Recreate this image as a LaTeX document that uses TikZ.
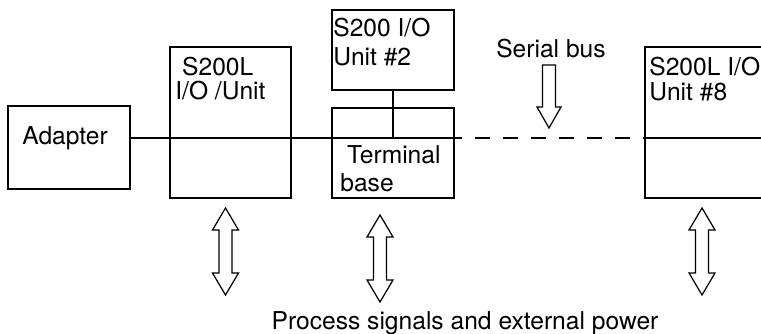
\documentclass[tikz,border=0pt]{standalone}
\usepackage{fontspec}
\setmainfont{TeX Gyre Heros}
\usetikzlibrary{calc}

\tikzset{
  unit/.style={draw, line width=1.1pt, inner sep=0pt},
  lbl/.style={inner sep=0pt, anchor=base west, align=left, font=\fontsize{14}{14}\selectfont},
  hollow/.style={draw, line width=0.7pt, line join=miter},
  bus/.style={line width=1.1pt},
}

\begin{document}
\begin{tikzpicture}
        \useasboundingbox (0,0) rectangle (15.22,-6.68);
        \clip (0,0) rectangle (15.22,-6.68);
        %% units
        \node[unit, minimum width=2.44cm, minimum height=1.66cm] (adp) at ( 1.38, -2.95) {};
        \node[unit, minimum width=2.42cm, minimum height=3.02cm] (io1) at ( 4.61, -2.45) {};
        \node[unit, minimum width=2.44cm, minimum height=1.60cm] (io2) at ( 7.86, -1.00) {};
        \node[unit, minimum width=2.44cm, minimum height=1.80cm] (tb2) at ( 7.86, -3.06) {};
        \node[unit, minimum width=3.00cm, minimum height=3.02cm] (io8) at (14.40, -2.45) {};
        %% labels (anchor on the last line)
        \node[lbl] (adptxt) at ( 0.44, -2.90) {Adapter};
        \node[lbl] (io1txt) at ( 3.50, -2.00) {\ S200L\\I/O /Unit};
        \node[lbl] (io2txt) at ( 6.66, -1.32) {S200 I/O\\[2.5pt]Unit \#2};
        \node[lbl] (tb2txt) at ( 6.80, -3.84) {\ Terminal\\[2.5pt]base};
        \node[lbl] (io8txt) at (12.98, -2.02) {S200L I/O\\[0.5pt]Unit \#8};
        \node[lbl, anchor=base] (bustxt) at (11.02, -1.16) {Serial bus};
        \node[lbl, anchor=base] (proctxt) at ( 9.30, -6.60) {Process signals and external power};
        %% serial bus
        \coordinate (bus0) at (2.60,-2.76);
        \coordinate (bus1) at (9.24,-2.76);
        \coordinate (bus2) at (io8.west |- bus1);
        \coordinate (bus3) at (io8.east |- bus1);
        \draw[bus] (bus0) -- (bus1);
        \draw[bus, dash pattern=on 0.3cm off 0.26cm, dash phase=0.3cm] (bus1) -- (bus2);
        \draw[bus] (bus2) -- (bus3);
        \draw[bus] (io2.south) -- (io2.south |- bus1);
        %% arrows
        \draw[hollow] (10.85,-1.30) -- (11.11,-1.30) -- (11.11,-2.14) -- (11.22,-2.14)
              -- (10.98,-2.56) -- (10.74,-2.14) -- (10.85,-2.14) -- cycle;
        \foreach \x/\y in {4.51/-4.16, 7.60/-4.30, 14.04/-4.16}
          \draw[hollow] (\x,\y) -- ++(0.26,-0.44) -- ++(-0.13,0) -- ++(0,-0.86) -- ++(0.13,0)
              -- ++(-0.26,-0.44) -- ++(-0.26,0.44) -- ++(0.13,0) -- ++(0,0.86) -- ++(-0.13,0) -- cycle;
      \end{tikzpicture}
\end{document}
